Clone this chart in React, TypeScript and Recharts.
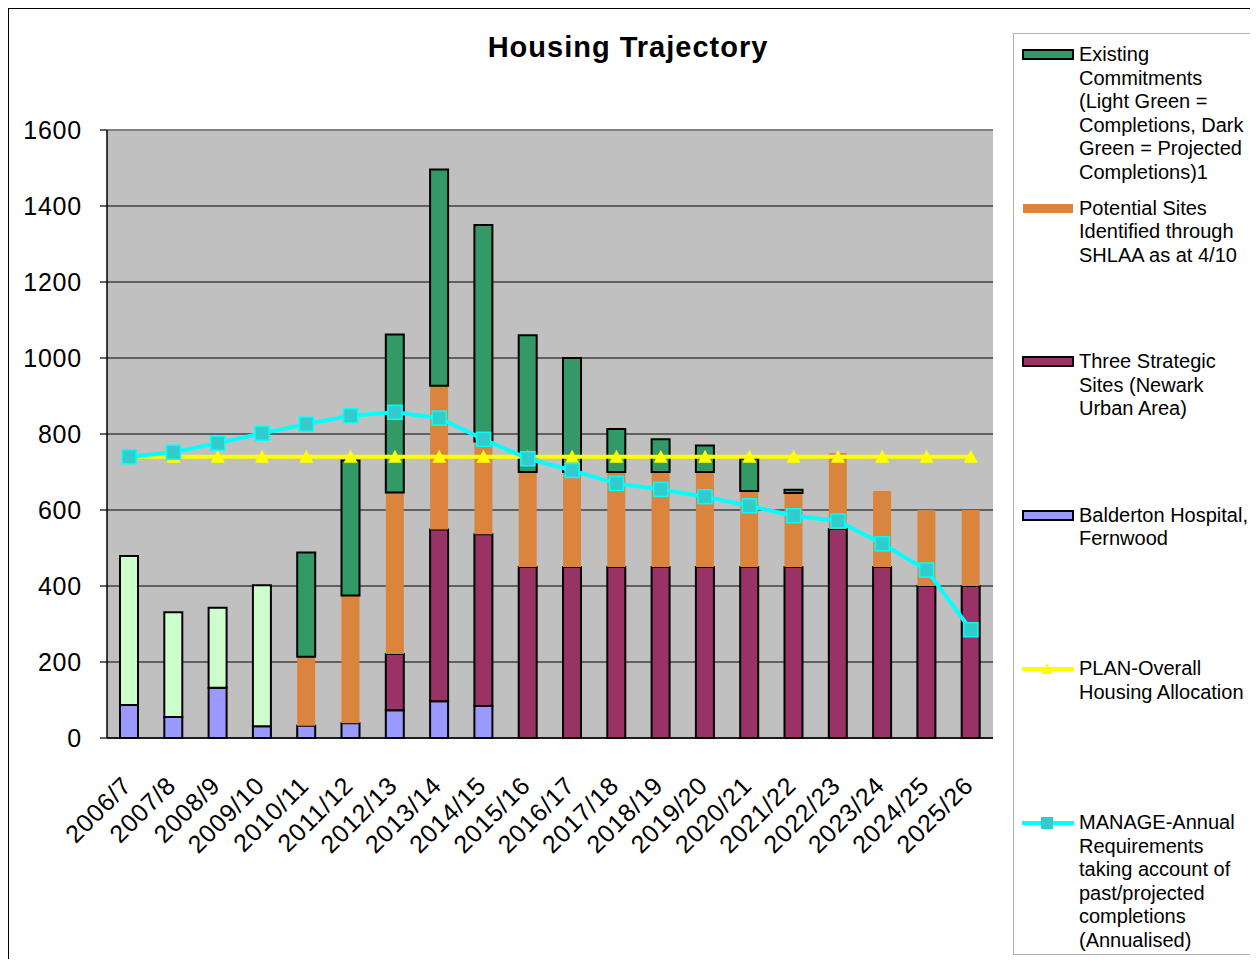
import React from "react";
import {
  Bar,
  CartesianGrid,
  Cell,
  ComposedChart,
  Legend,
  Line,
  ReferenceLine,
  XAxis,
  YAxis,
} from "recharts";

const years = [
  "2006/7", "2007/8", "2008/9", "2009/10", "2010/11", "2011/12", "2012/13",
  "2013/14", "2014/15", "2015/16", "2016/17", "2017/18", "2018/19", "2019/20",
  "2020/21", "2021/22", "2022/23", "2023/24", "2024/25", "2025/26",
];

// years where the commitments bar shows actual completions (light green)
const completedYears = ["2006/7", "2007/8", "2008/9", "2009/10"];

const balderton = [87, 55, 132, 31, 32, 39, 73, 97, 84, 0, 0, 0, 0, 0, 0, 0, 0, 0, 0, 0];
const strategicSites = [0, 0, 0, 0, 0, 0, 148, 452, 452, 450, 450, 450, 450, 450, 450, 450, 550, 450, 400, 400];
const shlaaSites = [0, 0, 0, 0, 182, 336, 425, 378, 244, 250, 250, 250, 250, 250, 200, 195, 200, 200, 200, 200];
const commitments = [392, 276, 211, 371, 274, 355, 416, 569, 570, 360, 300, 113, 86, 70, 85, 8, 0, 0, 0, 0];
const plan = [740, 740, 740, 740, 740, 740, 740, 740, 740, 740, 740, 740, 740, 740, 740, 740, 740, 740, 740, 740];
const manage = [740, 752, 776, 802, 826, 848, 857, 842, 786, 735, 704, 670, 654, 635, 611, 585, 571, 511, 442, 285];

const yTicks = [0, 200, 400, 600, 800, 1000, 1200, 1400, 1600];
const edgeTicks = [0, 1, 2, 3, 4, 5, 6, 7, 8, 9, 10, 11, 12, 13, 14, 15, 16, 17, 18, 19, 20];

const FONT = "Arial, 'Liberation Sans', sans-serif";

const DARK_GREEN = "#339966";
const LIGHT_GREEN = "#CCFFCC";
const ORANGE = "#DB843D";
const MAROON = "#993366";
const LAVENDER = "#9999FF";
const YELLOW = "#FFFF00";
const CYAN = "#00FFFF";
const TEAL = "#33CCCC";

const data = years.map((year, i) => ({
  year,
  balderton: balderton[i],
  strategic: strategicSites[i],
  shlaa: shlaaSites[i],
  commitments: commitments[i],
  plan: plan[i],
  manage: manage[i],
}));

const legendItems = [
  {
    kind: "bar",
    fill: DARK_GREEN,
    stroke: "#000",
    lines: ["Existing", "Commitments", "(Light Green =", "Completions, Dark", "Green = Projected", "Completions)1"],
  },
  { kind: "bar", fill: ORANGE, stroke: "none", lines: ["Potential Sites", "Identified through", "SHLAA as at 4/10"] },
  { kind: "bar", fill: MAROON, stroke: "#000", lines: ["Three Strategic", "Sites (Newark", "Urban Area)"] },
  { kind: "bar", fill: LAVENDER, stroke: "#000", lines: ["Balderton Hospital,", "Fernwood"] },
  { kind: "triangle", fill: YELLOW, stroke: YELLOW, lines: ["PLAN-Overall", "Housing Allocation"] },
  {
    kind: "square",
    fill: TEAL,
    stroke: CYAN,
    lines: ["MANAGE-Annual", "Requirements", "taking account of", "past/projected", "completions", "(Annualised)"],
  },
];

function SquareDot(props: any) {
  const { cx, cy, index } = props;
  if (cx == null || cy == null) return null;
  return (
    <rect key={`sq-${index}`} x={cx - 7} y={cy - 7} width={14} height={14} fill={TEAL} stroke={CYAN} strokeWidth={1.5} />
  );
}

function TriangleDot(props: any) {
  const { cx, cy, index } = props;
  if (cx == null || cy == null) return null;
  return (
    <polygon key={`tr-${index}`} points={`${cx},${cy - 7} ${cx + 7},${cy + 6} ${cx - 7},${cy + 6}`} fill={YELLOW} />
  );
}

function YearTick(props: any) {
  const { x, y, payload } = props;
  return (
    <g transform={`translate(${x + 4},${y + 48})`}>
      <text
        x={0}
        y={0}
        textAnchor="end"
        transform="rotate(-45)"
        fill="#000"
        fontSize={25}
        letterSpacing={0.8}
        fontFamily={FONT}
      >
        {payload.value}
      </text>
    </g>
  );
}

function LegendIcon({ item }: { item: (typeof legendItems)[number] }) {
  if (item.kind === "bar") {
    return (
      <svg width={60} height={24}>
        <rect x={4} y={7} width={50} height={9} fill={item.fill} stroke={item.stroke} strokeWidth={item.stroke === "none" ? 0 : 2} />
      </svg>
    );
  }
  return (
    <svg width={60} height={24}>
      <line x1={3} x2={55} y1={12} y2={12} stroke={item.stroke} strokeWidth={4} />
      {item.kind === "square" ? (
        <rect x={22} y={6} width={12} height={12} fill={item.fill} />
      ) : (
        <polygon points="28,6 34,17 22,17" fill={item.fill} />
      )}
    </svg>
  );
}

function LegendBox() {
  return (
    <div
      style={{
        position: "relative",
        width: "100%",
        height: "100%",
        boxSizing: "border-box",
        borderTop: "1px solid #b0b0b0",
        borderLeft: "1px solid #b0b0b0",
        borderBottom: "1px solid #b0b0b0",
        fontFamily: FONT,
        fontSize: 20,
        color: "#000",
        background: "#fff",
      }}
    >
      {legendItems.map((item, i) => (
        <div key={item.lines[0]} style={{ position: "absolute", left: 0, top: 9 + i * 153.6 }}>
          <div style={{ position: "absolute", left: 5, top: 0 }}>
            <LegendIcon item={item} />
          </div>
          <div style={{ position: "absolute", left: 65, top: 0, lineHeight: "23.5px", whiteSpace: "nowrap" }}>
            {item.lines.map((line) => (
              <div key={line}>{line}</div>
            ))}
          </div>
        </div>
      ))}
    </div>
  );
}

export default function App() {
  return (
    <div style={{ position: "relative", width: 1250, height: 951, fontFamily: FONT, background: "#fff" }}>
      <div
        style={{
          position: "absolute",
          left: 0,
          top: 0,
          width: 1250,
          height: 951,
          boxSizing: "border-box",
          borderTop: "1px solid #000",
          borderLeft: "1px solid #000",
        }}
      />
      <div
        style={{
          position: "absolute",
          left: 420,
          top: 22,
          width: 400,
          textAlign: "center",
          fontSize: 29,
          fontWeight: "bold",
          letterSpacing: 1,
          lineHeight: "34px",
          zIndex: 2,
        }}
      >
        Housing Trajectory
      </div>
      <div style={{ position: "absolute", left: 0, top: 0 }}>
        <ComposedChart
          width={1250}
          height={951}
          data={data}
          margin={{ top: 122, right: 265, bottom: 120, left: 29 }}
          barCategoryGap={0}
        >
          <CartesianGrid xAxisId="b-cat" vertical={false} stroke="#000" strokeWidth={1.2} fill="#C0C0C0" fillOpacity={1} />
          <XAxis
            xAxisId="b-cat"
            dataKey="year"
            interval={0}
            axisLine={false}
            tickLine={false}
            tickSize={0}
            tickMargin={0}
            height={100}
            tick={<YearTick />}
          />
          <XAxis
            xAxisId="a-edge"
            type="number"
            domain={[0, 20]}
            ticks={edgeTicks}
            allowDataOverflow
            tick={false}
            tickSize={8}
            height={1}
            axisLine={{ stroke: "#000", strokeWidth: 1.5 }}
            tickLine={{ stroke: "#000", strokeWidth: 1.2 }}
          />
          <YAxis
            domain={[0, 1600]}
            ticks={yTicks}
            width={70}
            tickSize={7}
            tickMargin={18}
            axisLine={{ stroke: "#000", strokeWidth: 1.5 }}
            tickLine={{ stroke: "#000", strokeWidth: 1.2 }}
            tick={{ fill: "#000", fontSize: 25, fontFamily: FONT, letterSpacing: 0.8 }}
          />
          <ReferenceLine y={1600} xAxisId="b-cat" stroke="#808080" strokeWidth={2} />
          <ReferenceLine x={20} xAxisId="a-edge" stroke="#808080" strokeWidth={2} />
          <Bar xAxisId="b-cat" dataKey="balderton" stackId="a" barSize={18} fill={LAVENDER} stroke="#000" strokeWidth={2} isAnimationActive={false} />
          <Bar xAxisId="b-cat" dataKey="strategic" stackId="a" barSize={18} fill={MAROON} stroke="#000" strokeWidth={2} isAnimationActive={false} />
          <Bar xAxisId="b-cat" dataKey="shlaa" stackId="a" barSize={18} fill={ORANGE} isAnimationActive={false} />
          <Bar xAxisId="b-cat" dataKey="commitments" stackId="a" barSize={18} fill={DARK_GREEN} stroke="#000" strokeWidth={2} isAnimationActive={false}>
            {data.map((d) => (
              <Cell key={d.year} fill={completedYears.includes(d.year) ? LIGHT_GREEN : DARK_GREEN} />
            ))}
          </Bar>
          <Line
            xAxisId="b-cat"
            dataKey="plan"
            type="linear"
            stroke={YELLOW}
            strokeWidth={4}
            dot={TriangleDot}
            activeDot={false}
            isAnimationActive={false}
          />
          <Line
            xAxisId="b-cat"
            dataKey="manage"
            type="linear"
            stroke={CYAN}
            strokeWidth={4}
            dot={SquareDot}
            activeDot={false}
            isAnimationActive={false}
          />
          <Legend
            layout="vertical"
            align="center"
            verticalAlign="middle"
            content={() => <LegendBox />}
            wrapperStyle={{ left: 1005, top: 25, width: 245, height: 922 }}
          />
        </ComposedChart>
      </div>
    </div>
  );
}
